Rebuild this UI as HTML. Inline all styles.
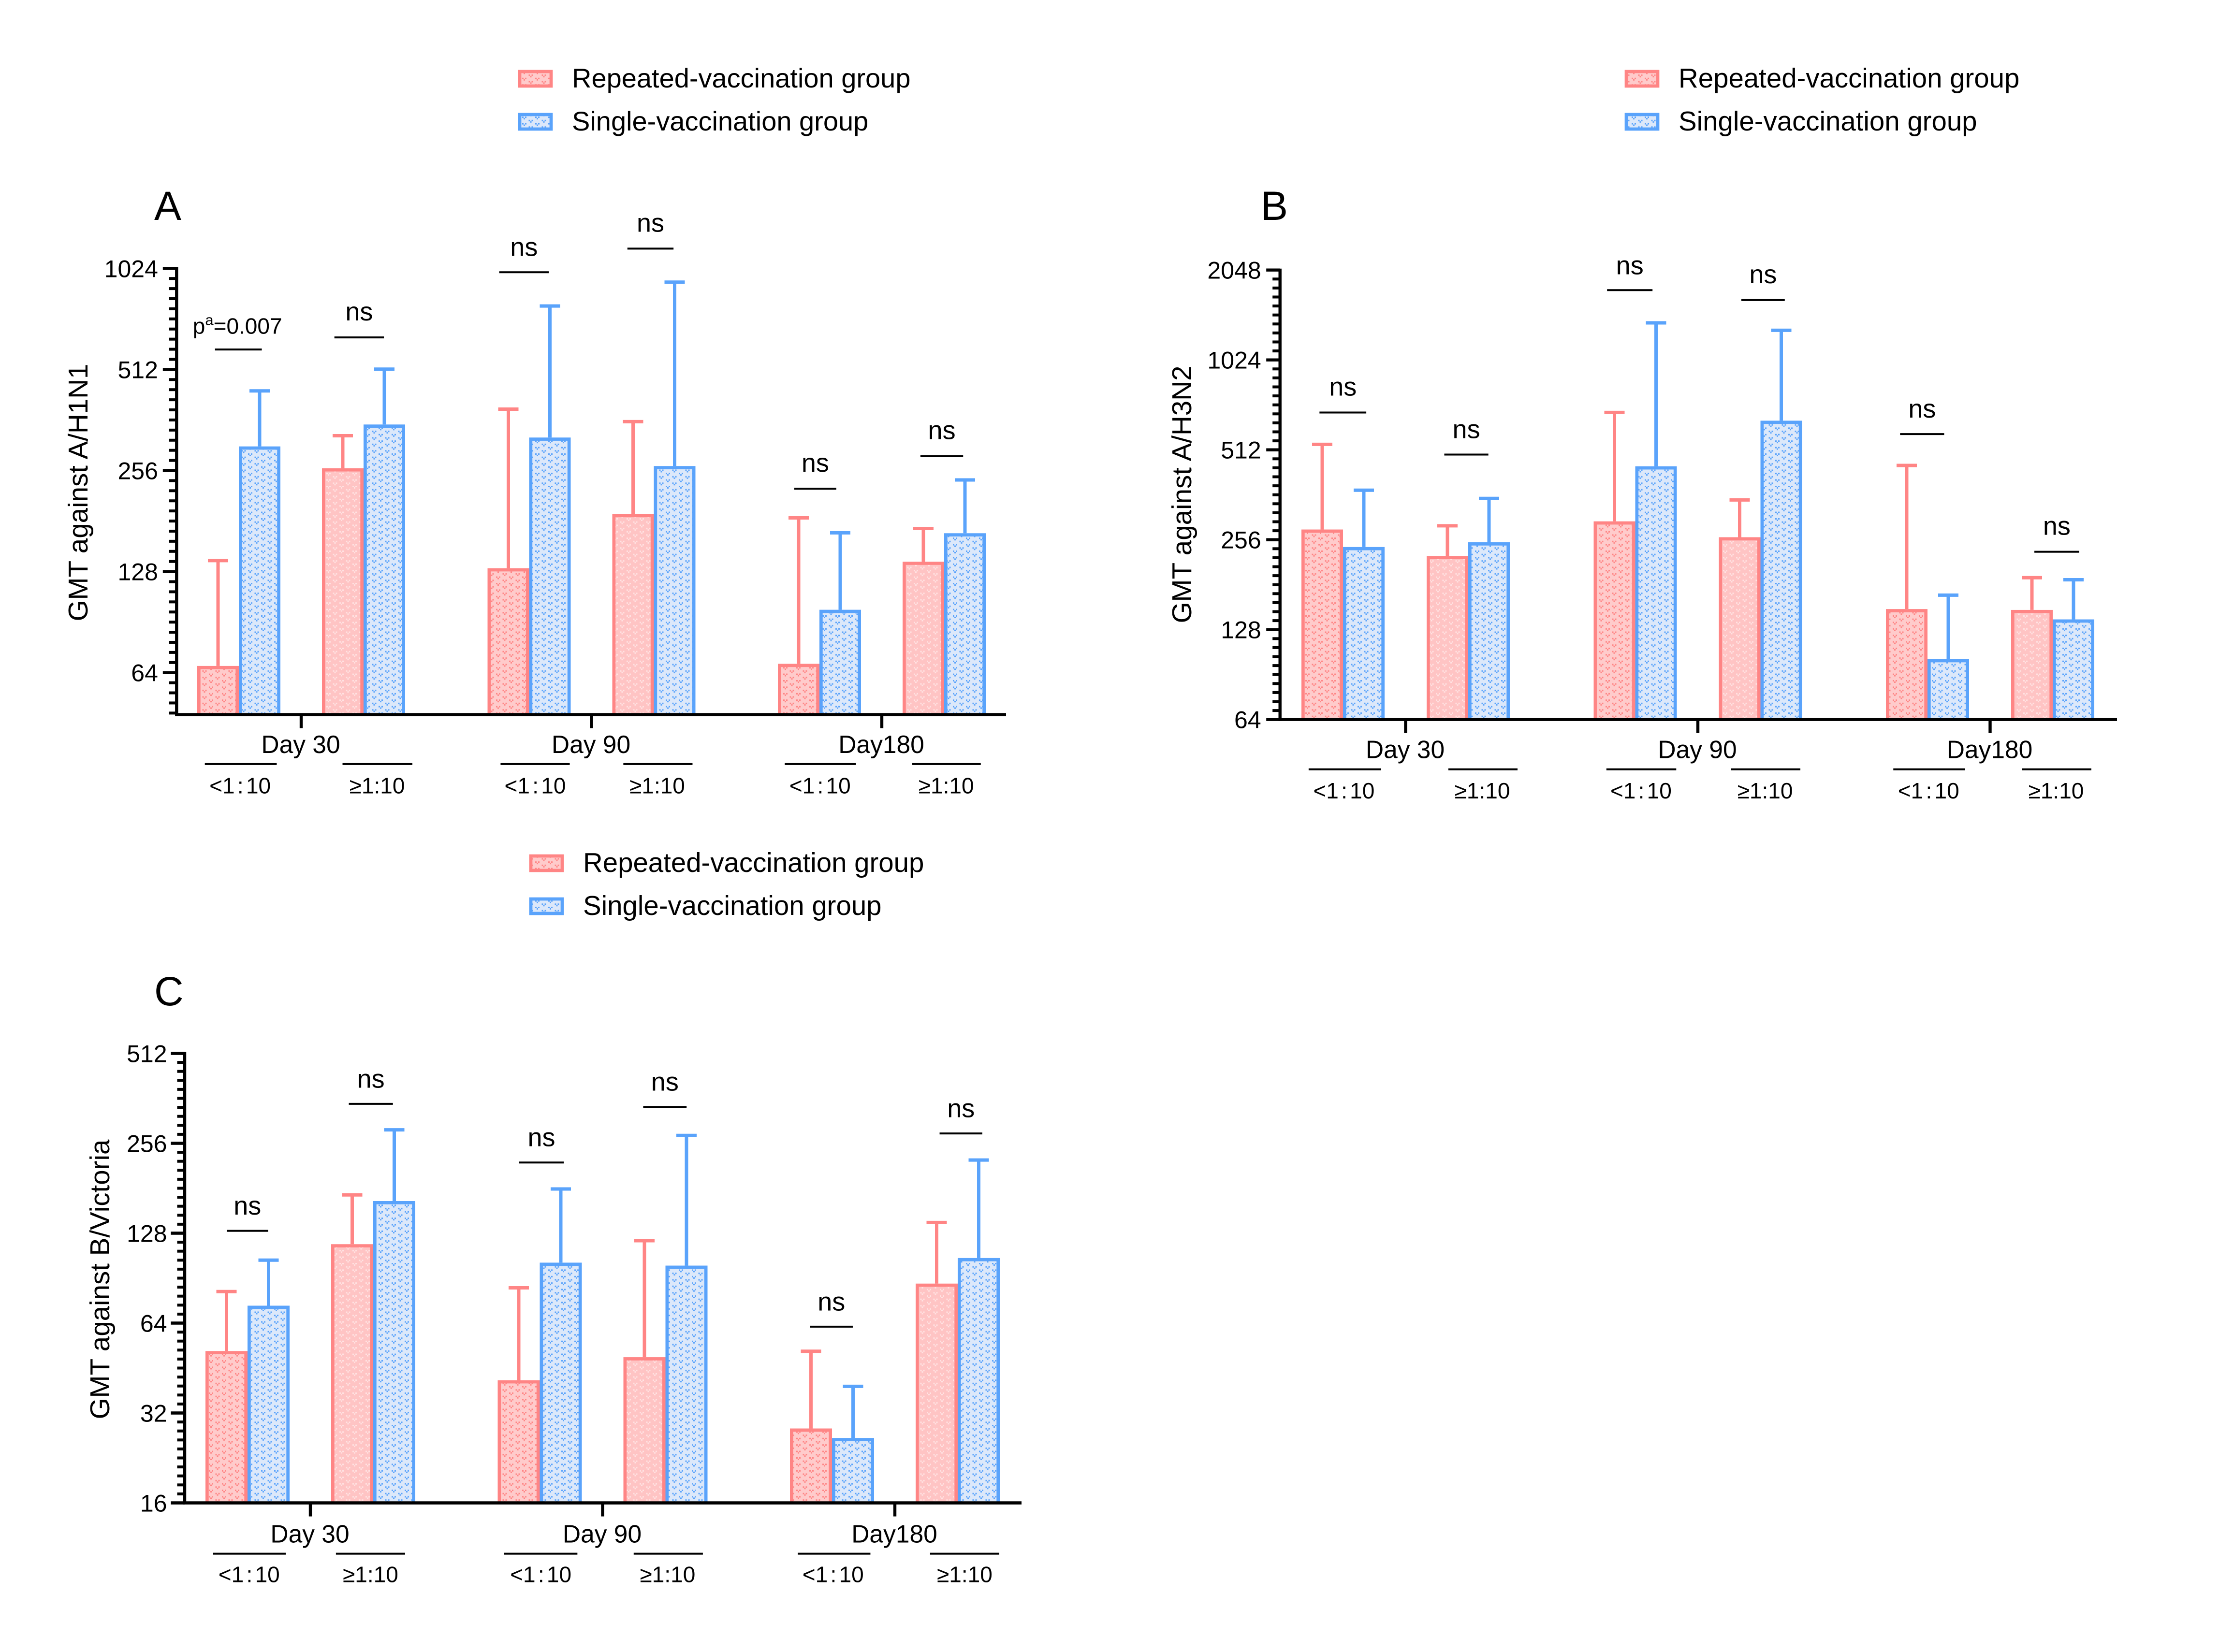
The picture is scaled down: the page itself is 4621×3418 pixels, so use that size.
<!DOCTYPE html>
<html lang="en">
<head>
<meta charset="utf-8">
<title>GMT by vaccination group</title>
<style>
html,body{margin:0;padding:0;background:#fff;}
svg{display:block;font-family:"Liberation Sans",Arial,sans-serif;}
</style>
</head>
<body>
<svg id="figure" xmlns="http://www.w3.org/2000/svg" width="4621" height="3418" viewBox="0 0 4621 3418">
<defs>
<pattern id="fill-red-dense" patternUnits="userSpaceOnUse" width="27" height="13.4">
<rect width="27" height="13.4" fill="#FFCBCB"/>
<path d="M0 0h3v3H0zM6 0h3v3H6zM3 3h3v3H3zM13.5 6.7h3v3h-3zM19.5 6.7h3v3h-3zM16.5 9.7h3v3h-3z" fill="#FF8585"/>
</pattern>
<pattern id="fill-red-pale" patternUnits="userSpaceOnUse" width="27" height="13.4">
<rect width="27" height="13.4" fill="#FFC4C4"/>
<path d="M0 0h3v3H0zM6 0h3v3H6zM3 3h3v3H3zM13.5 6.7h3v3h-3zM19.5 6.7h3v3h-3zM16.5 9.7h3v3h-3z" fill="#FFE2E2"/>
</pattern>
<pattern id="fill-blue" patternUnits="userSpaceOnUse" width="27" height="13.4">
<rect width="27" height="13.4" fill="#DCE8FA"/>
<path d="M0 0h3v3H0zM6 0h3v3H6zM3 3h3v3H3zM13.5 6.7h3v3h-3zM19.5 6.7h3v3h-3zM16.5 9.7h3v3h-3z" fill="#5AA3FB"/>
</pattern>
</defs>
<rect width="4621" height="3418" fill="#fff"/>

<g font-size="56">
<rect x="1075" y="148" width="65" height="30" fill="url(#fill-red-dense)" stroke="#FF8585" stroke-width="6.7"/>
<text x="1183" y="181">Repeated-vaccination group</text>
<rect x="1075" y="237" width="65" height="30" fill="url(#fill-blue)" stroke="#5AA3FB" stroke-width="6.7"/>
<text x="1183" y="270">Single-vaccination group</text>
</g>
<g font-size="56.4">
<rect x="3364" y="148" width="65" height="30" fill="url(#fill-red-dense)" stroke="#FF8585" stroke-width="6.7"/>
<text x="3472" y="181">Repeated-vaccination group</text>
<rect x="3364" y="237" width="65" height="30" fill="url(#fill-blue)" stroke="#5AA3FB" stroke-width="6.7"/>
<text x="3472" y="270">Single-vaccination group</text>
</g>
<g font-size="56.4">
<rect x="1098" y="1771" width="65" height="30" fill="url(#fill-red-dense)" stroke="#FF8585" stroke-width="6.7"/>
<text x="1206" y="1804">Repeated-vaccination group</text>
<rect x="1098" y="1860" width="65" height="30" fill="url(#fill-blue)" stroke="#5AA3FB" stroke-width="6.7"/>
<text x="1206" y="1893">Single-vaccination group</text>
</g>

<text x="319" y="455" font-size="84">A</text>
<text x="2608" y="455" font-size="84">B</text>
<text x="319" y="2080" font-size="84">C</text>

<text transform="translate(181 1019) rotate(-90)" text-anchor="middle" font-size="56.5">GMT against A/H1N1</text>
<text transform="translate(2464 1023) rotate(-90)" text-anchor="middle" font-size="56.5">GMT against A/H3N2</text>
<text transform="translate(226 2647) rotate(-90)" text-anchor="middle" font-size="56.5">GMT against B/Victoria</text>

<g id="panel-a"></g>
<g id="panel-b"></g>
<g id="panel-c"></g>
</svg>

<script>
// Shared categories
const categories = ['Day 30', 'Day 90', 'Day180'];
const subgroups = ['<1 : 10', '\u22651:10'];

// Panel A: A/H1N1 (order: D30 <, D30 >=, D90 <, D90 >=, D180 <, D180 >=)
const repeatedA = [67, 260, 131, 190, 68, 137];
const singleA = [302, 351, 321, 264, 98.5, 166.5];
const repeatedUpperA = [138, 325, 390, 358, 185, 172];
const singleUpperA = [442, 513, 791, 932, 167, 240];
const tickLabelsA = [64, 128, 256, 512, 1024];
const pLabelsA = ['pa', 'ns', 'ns', 'ns', 'ns', 'ns'];

// Panel B: A/H3N2
const repeatedB = [277, 226, 295, 261, 150, 149];
const singleB = [242, 251, 451, 641, 102, 138.5];
const repeatedUpperB = [534, 285, 683, 348, 454, 191];
const singleUpperB = [375, 352, 1363, 1287, 167, 188];
const tickLabelsB = [64, 128, 256, 512, 1024, 2048];
const pLabelsB = ['ns', 'ns', 'ns', 'ns', 'ns', 'ns'];

// Panel C: B/Victoria
const repeatedC = [51.6, 117.6, 41.2, 49.2, 28.4, 86.8];
const singleC = [73.2, 164, 102, 99.7, 26.4, 105.7];
const repeatedUpperC = [81.6, 172, 84, 120.8, 51.5, 139];
const singleUpperC = [104, 284, 180, 272, 39.3, 225];
const tickLabelsC = [16, 32, 64, 128, 256, 512];
const pLabelsC = ['ns', 'ns', 'ns', 'ns', 'ns', 'ns'];

// Layout only (separate from the data above)
const RED = '#FF8585';
const BLUE = '#5AA3FB';
const MINOR_PER_OCTAVE = 10;
const KX = 1.403;

const layoutA = {
  id: 'panel-a', ox: 0, oy: 60, ky: 1.087,
  axisX: 365.3, endX: 2081, topY: 555.3, octave: 209.1, maxV: 1024, minV: 48,
  firstBar: 408, barW: 86, pairPitch: 258, dayPitch: 600.5,
  sigLine: [[317, 386, 610], [493, 566, 587], [736, 809, 463], [925, 993, 418], [1171, 1233, 875], [1357, 1420, 813]],
  sigY: [569, 541, 418, 372, 829, 767],
  under: [[302, 408], [505, 608], [738, 840], [919, 1021], [1157, 1262], [1345, 1446]],
  underY: 1399.2, dayY: 1361.4, subY: 1440,
  subX: [354, 556, 789, 969, 1209, 1395], tickRight: 233
};
const layoutB = {
  id: 'panel-b', ox: 2300, oy: 60, ky: 1.087,
  axisX: 2647.7, endX: 4379, topY: 558.7, octave: 186, maxV: 2048, minV: 64,
  firstBar: 2692, barW: 86, pairPitch: 259, dayPitch: 604.5,
  sigLine: [[306, 375, 730], [490, 555, 810], [730, 797, 497], [928, 992, 516], [1162, 1227, 771], [1360, 1426, 995]],
  sigY: [684, 765, 453, 470, 726, 949],
  under: [[290, 397], [496, 598], [729, 832], [913, 1015], [1152, 1258], [1342, 1444]],
  underY: 1409.2, dayY: 1371.4, subY: 1450,
  subX: [342, 546, 780, 963, 1204, 1392], tickRight: 220
};
const layoutC = {
  id: 'panel-c', ox: 100, oy: 1730, ky: 1.055,
  axisX: 382, endX: 2113, topY: 2179.5, octave: 186, maxV: 512, minV: 16,
  firstBar: 425, barW: 87, pairPitch: 260, dayPitch: 604.5,
  sigLine: [[263, 324, 774], [443, 508, 525], [694, 760, 640], [877, 941, 531], [1123, 1186, 962], [1314, 1377, 583]],
  sigY: [728, 479, 594, 485, 916, 537],
  under: [[243, 350], [424, 526], [672, 780], [863, 965], [1105, 1212], [1300, 1402]],
  underY: 1407.2, dayY: 1368.3, subY: 1448,
  subX: [296, 475, 726, 913, 1157, 1351], tickRight: 175
};

const SVGNS = 'http://www.w3.org/2000/svg';

function make(tag, attrs, parent) {
  const el = document.createElementNS(SVGNS, tag);
  for (const k in attrs) el.setAttribute(k, attrs[k]);
  parent.appendChild(el);
  return el;
}

function drawPanel(L, repeated, single, repeatedUpper, singleUpper, tickLabels, pLabels) {
  const root = document.getElementById(L.id);
  const zx = function (z) { return L.ox + z * KX; };
  const zy = function (z) { return L.oy + z * L.ky; };
  const yScale = function (v) { return L.topY + Math.log2(L.maxV / v) * L.octave; };
  const baseY = yScale(L.minV);
  const barLeft = function (i, s) {
    const day = Math.floor(i / 2);
    const sub = i % 2;
    return L.firstBar + day * L.dayPitch + sub * L.pairPitch + s * L.barW;
  };
  const SW = 6.7;

  // bars and error bars
  [[repeated, repeatedUpper, RED, 0], [single, singleUpper, BLUE, 1]].forEach(function (series) {
    const vals = series[0], upper = series[1], col = series[2], s = series[3];
    vals.forEach(function (v, i) {
      const x = barLeft(i, s);
      const cx = x + L.barW / 2;
      const top = yScale(v);
      const up = yScale(upper[i]);
      const stem = make('line', { x1: cx, x2: cx, y1: top, y2: up, stroke: col, 'stroke-width': 7 }, root);
      
      
      const cap = make('line', { x1: cx - 21, x2: cx + 21, y1: up, y2: up, stroke: col, 'stroke-width': 7 }, root);
      
      
      const fill = s === 1 ? 'url(#fill-blue)' : (i % 2 === 0 ? 'url(#fill-red-dense)' : 'url(#fill-red-pale)');
      const bar = make('rect', { x: x + SW / 2, y: top + SW / 2, width: L.barW - SW, height: Math.max(0, baseY - top), fill: fill, stroke: col, 'stroke-width': SW }, root);
      
      
    });
  });

  // cover stroke overflow under the baseline
  const mask = make('rect', { x: L.axisX + 4, y: baseY + 3, width: L.endX - L.axisX, height: 14, fill: '#fff' }, root);
  
  

  // y axis
  const yAxis = make('line', { x1: L.axisX, x2: L.axisX, y1: L.topY - 3, y2: baseY + 3, stroke: '#000', 'stroke-width': 6.4 }, root);
  
  

  // minor ticks every tenth of an octave, major ticks on the labelled values
  const octaves = Math.log2(L.maxV / L.minV);
  const steps = Math.floor(octaves * MINOR_PER_OCTAVE + 0.01);
  for (let k = 0; k <= steps; k++) {
    const y = L.topY + (k / MINOR_PER_OCTAVE) * L.octave;
    if (k % MINOR_PER_OCTAVE === 0) continue;
    const minor = make('line', { x1: L.axisX - 15.5, x2: L.axisX, y1: y, y2: y, stroke: '#000', 'stroke-width': 6 }, root);
    
    
  }
  tickLabels.forEach(function (t) {
    const y = yScale(t);
    const major = make('line', { x1: L.axisX - 28.5, x2: L.axisX, y1: y, y2: y, stroke: '#000', 'stroke-width': 6.4 }, root);
    
    
    const lab = make('text', { x: zx(L.tickRight), y: y + 18, 'text-anchor': 'end', 'font-size': 50 }, root);
    lab.textContent = String(t);
    
    
  });

  // x axis
  const xAxis = make('line', { x1: L.axisX - 3, x2: L.endX, y1: baseY, y2: baseY, stroke: '#000', 'stroke-width': 6.4 }, root);
  
  
  categories.forEach(function (c, d) {
    const cx = (barLeft(d * 2, 1) + barLeft(d * 2 + 1, 1)) / 2;
    const tick = make('line', { x1: cx, x2: cx, y1: baseY, y2: baseY + 28, stroke: '#000', 'stroke-width': 6.4 }, root);
    
    
    const lab = make('text', { x: cx - 1, y: zy(L.dayY) + 18, 'text-anchor': 'middle', 'font-size': 51.5 }, root);
    lab.textContent = c;
    
    
  });

  // titer subgroups under the axis
  L.under.forEach(function (u, i) {
    const ul = make('line', { x1: zx(u[0]), x2: zx(u[1]), y1: zy(L.underY), y2: zy(L.underY), stroke: '#000', 'stroke-width': 4 }, root);
    
    
    const lab = make('text', { x: zx(L.subX[i]), y: zy(L.subY) + 16, 'text-anchor': 'middle', 'font-size': 46, 'word-spacing': i % 2 === 0 ? -7.5 : 0 }, root);
    lab.textContent = subgroups[i % 2];
    
    
  });

  // significance annotations
  L.sigLine.forEach(function (b, i) {
    const ln = make('line', { x1: zx(b[0]), x2: zx(b[1]), y1: zy(b[2]), y2: zy(b[2]), stroke: '#000', 'stroke-width': 4 }, root);
    
    
    const cx = zx((b[0] + b[1]) / 2);
    if (pLabels[i] === 'pa') {
      const t = make('text', { x: cx - 2, y: zy(L.sigY[i]) + 12, 'text-anchor': 'middle', 'font-size': 46 }, root);
      
      
      const p1 = make('tspan', {}, t);
      p1.textContent = 'p';
      
      
      const p2 = make('tspan', { dy: -18, 'font-size': 31 }, t);
      p2.textContent = 'a';
      
      
      const p3 = make('tspan', { dy: 18 }, t);
      p3.textContent = '=0.007';
      
      
    } else {
      const t = make('text', { x: cx, y: zy(L.sigY[i]) + 15, 'text-anchor': 'middle', 'font-size': 54 }, root);
      t.textContent = pLabels[i];
      
      
    }
  });
}

drawPanel(layoutA, repeatedA, singleA, repeatedUpperA, singleUpperA, tickLabelsA, pLabelsA);
drawPanel(layoutB, repeatedB, singleB, repeatedUpperB, singleUpperB, tickLabelsB, pLabelsB);
drawPanel(layoutC, repeatedC, singleC, repeatedUpperC, singleUpperC, tickLabelsC, pLabelsC);
</script>
</body>
</html>
